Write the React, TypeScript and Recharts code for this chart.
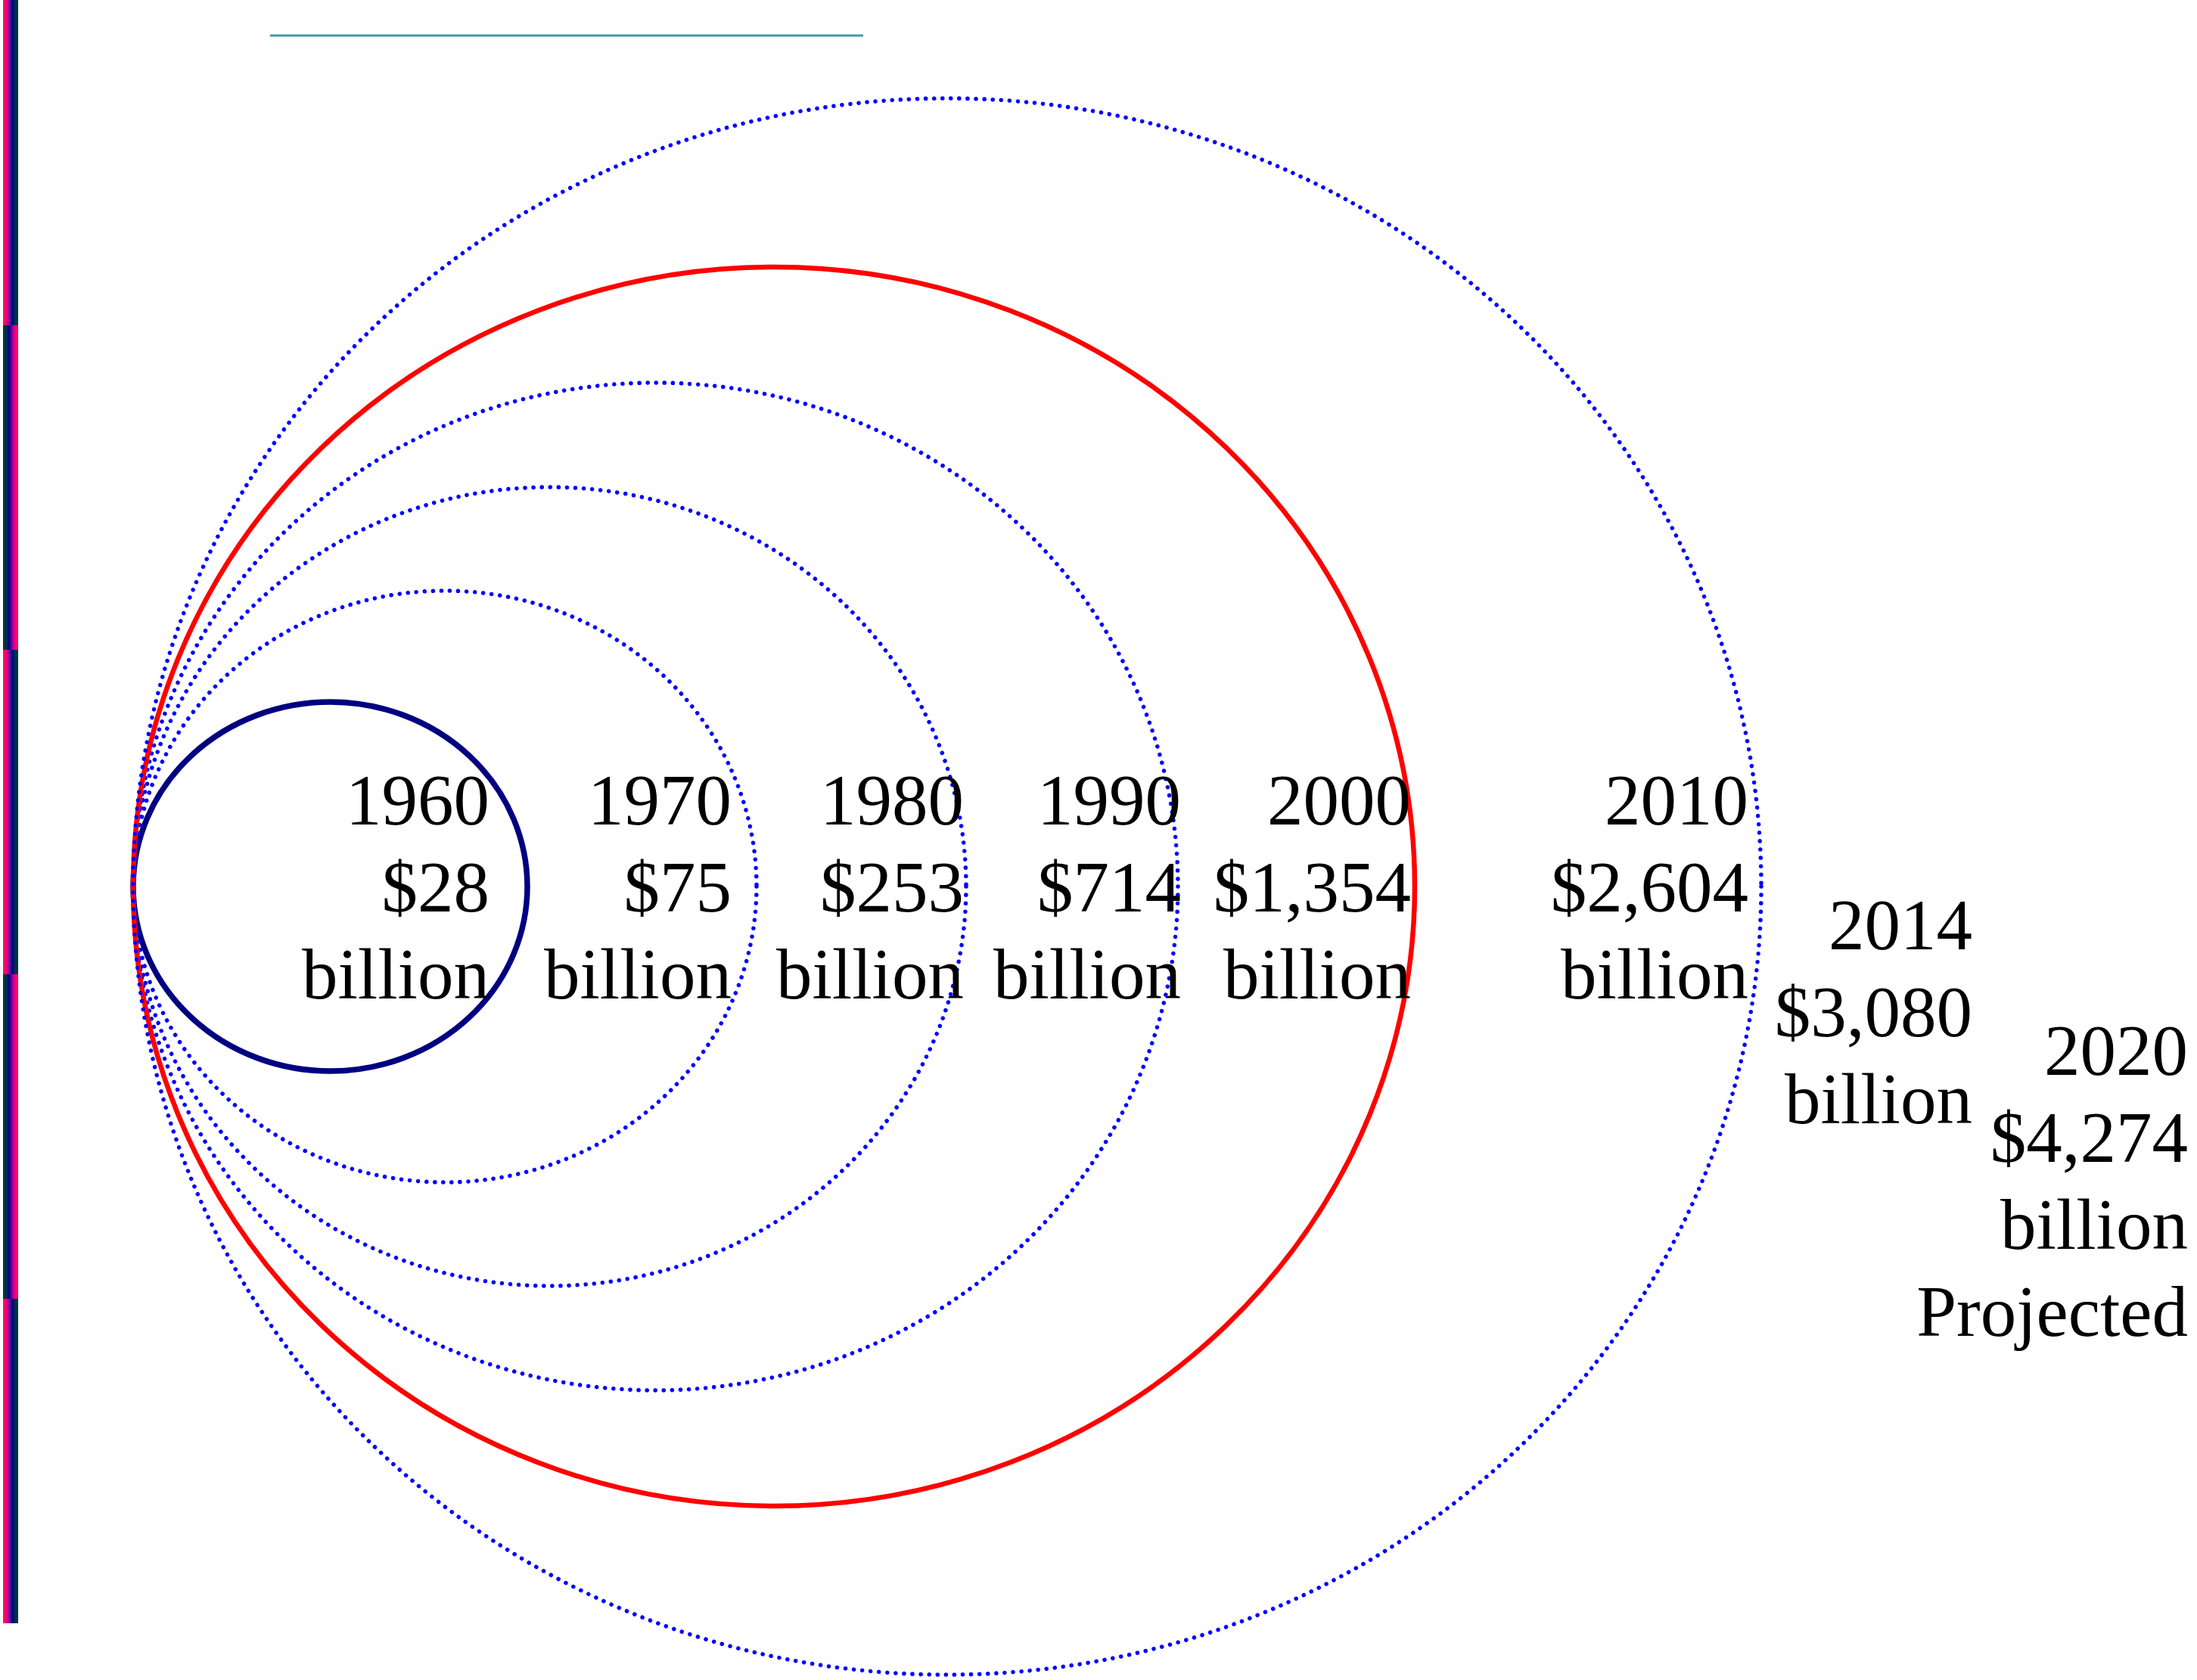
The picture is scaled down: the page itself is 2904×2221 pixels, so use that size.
import { ScatterChart, Scatter, XAxis, YAxis, ReferenceArea, ReferenceLine } from 'recharts';

const W = 2904;
const H = 2221;

// label for every year (axis units = chart units)
const years = ['1960', '1970', '1980', '1990', '2000', '2010', '2014', '2020'];
const amounts = ['$28', '$75', '$253', '$714', '$1,354', '$2,604', '$3,080', '$4,274'];
const notes = ['', '', '', '', '', '', '', 'Projected'];
const unit = 'billion';
const labelX = [647, 967, 1274, 1561, 1865, 2311, 2607, 2892];
const labelY = [1090, 1090, 1090, 1090, 1090, 1090, 1255, 1421];

// rings, only the first six decades get one
const ringYears = ['1960', '1970', '1980', '1990', '2000', '2010'];
const ringLeft = [176, 176, 176, 176, 176, 176];
const ringRight = [697, 1000, 1277, 1557, 1870, 2328];
const ringTop = [928, 781, 644, 506, 353, 130];
const ringBottom = [1416, 1563, 1700, 1838, 1991, 2214];

// colour bar down the left edge
const stripeBreaks = [0, 430, 859, 1288, 1717, 2146];

// short rule at the top
const ruleFrom = { x: 357, y: 47 };
const ruleTo = { x: 1141, y: 47 };

const labels = years.map((year, i) => ({
  x: labelX[i],
  y: labelY[i],
  year,
  amount: amounts[i],
  note: notes[i],
}));

const serif = "'Liberation Serif', 'Times New Roman', serif";

const ringStyle = (year: string) => {
  if (year === '1960') return { stroke: '#000080', strokeWidth: 7.5 };
  if (year === '2000') return { stroke: '#ff0000', strokeWidth: 6.5 };
  return { stroke: '#0000ff', strokeWidth: 5.5, strokeDasharray: '0.1 11', strokeLinecap: 'round' as const };
};

const stripeStops = ['#ff0a6a', '#ff006e', '#8a00a8', '#000088', '#00304a', '#003c28'];

const LabelShape = (props: any) => {
  const { cx, cy, payload } = props;
  const lines = [payload.year, payload.amount, unit, payload.note].filter(Boolean);
  return (
    <text x={cx} y={cy} textAnchor="end" fontFamily={serif} fontSize={95} fill="#000">
      {lines.map((l: string, i: number) => (
        <tspan key={i} x={cx} dy={i ? 115 : 0}>
          {l}
        </tspan>
      ))}
    </text>
  );
};

export default function App() {
  return (
    <div style={{ position: 'absolute', left: 0, top: 0, width: W, height: H, overflow: 'hidden', background: '#fff' }}>
      <ScatterChart width={W} height={H} margin={{ top: 0, right: 0, bottom: 0, left: 0 }}>
        <XAxis type="number" dataKey="x" domain={[0, W]} allowDataOverflow hide />
        <YAxis type="number" dataKey="y" domain={[0, H]} allowDataOverflow reversed hide />

        {stripeBreaks.slice(0, -1).map((top, i) => (
          <ReferenceArea
            key={`s${i}`}
            x1={4}
            x2={24}
            y1={top}
            y2={stripeBreaks[i + 1]}
            ifOverflow="visible"
            shape={(p: any) => (
              <g>
                <defs>
                  <linearGradient id={`stripe${i}`} x1="0" y1="0" x2="1" y2="0">
                    {(i % 2 ? [...stripeStops].reverse() : stripeStops).map((c, k) => (
                      <stop key={k} offset={k / (stripeStops.length - 1)} stopColor={c} />
                    ))}
                  </linearGradient>
                </defs>
                <rect x={p.x} y={p.y} width={p.width} height={p.height} fill={`url(#stripe${i})`} />
              </g>
            )}
          />
        ))}

        <ReferenceLine segment={[ruleFrom, ruleTo]} stroke="#3f9aa6" strokeWidth={3} ifOverflow="visible" />

        <Scatter data={labels} isAnimationActive={false} shape={LabelShape} />

        {ringYears.map((year, i) => (
          <ReferenceArea
            key={year}
            x1={ringLeft[i]}
            x2={ringRight[i]}
            y1={ringTop[i]}
            y2={ringBottom[i]}
            ifOverflow="visible"
            shape={(p: any) => (
              <ellipse
                cx={p.x + p.width / 2}
                cy={p.y + p.height / 2}
                rx={p.width / 2}
                ry={p.height / 2}
                fill="none"
                {...ringStyle(year)}
              />
            )}
          />
        ))}
      </ScatterChart>
    </div>
  );
}
